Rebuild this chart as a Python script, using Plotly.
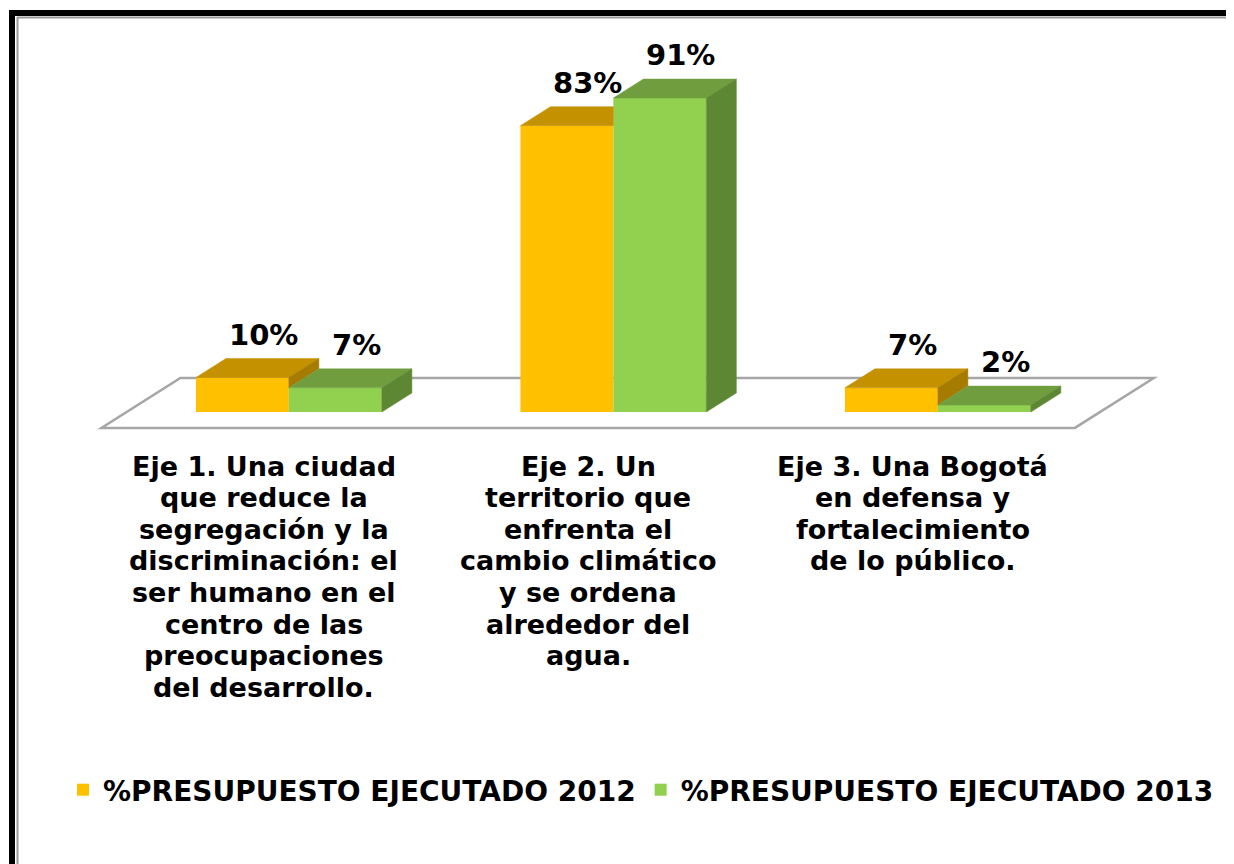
import plotly.graph_objects as go

# categories (one entry per axis, each split into the lines shown under the floor)
CATEGORY_LINES = [
    ["Eje 1. Una ciudad", "que reduce la", "segregación y la", "discriminación: el",
     "ser humano en el", "centro de las", "preocupaciones", "del desarrollo."],
    ["Eje 2. Un", "territorio que", "enfrenta el", "cambio climático",
     "y se ordena", "alrededor del", "agua."],
    ["Eje 3. Una Bogotá", "en defensa y", "fortalecimiento", "de lo público."],
]
SERIES_NAMES = ["%PRESUPUESTO EJECUTADO 2012", "%PRESUPUESTO EJECUTADO 2013"]
VALUES_2012 = [10, 83, 7]
VALUES_2013 = [7, 91, 2]

FRONT = ["#FFC000", "#92D050"]
TOP = ["#C49200", "#709E3E"]
SIDE = ["#A67C00", "#5E8734"]

FONT = "DejaVu Sans, Liberation Sans, Arial, sans-serif"

# fake 3d depth, in axis units
BARGAP = 0.427
DEPTH_X = 0.0925
DEPTH_Y = 5.5
FLOOR_FRONT = -0.84
FLOOR_BACK = 1.79

W, H = 1226, 856
PAGE_OFFSET = 8  # the page body margin pushes the figure 8px right and down
ML, MR, MT, MB = 32, 20, 22, 424
X_RANGE = [-0.767, 2.851]
Y_RANGE = [-8.12, 110.72]


def px_x(px):
    return (px - PAGE_OFFSET - ML) / (W - ML - MR)


def px_y(py):
    return (H - MB - (py - PAGE_OFFSET)) / (H - MT - MB)


def poly(xs, ys, color):
    return go.Scatter(
        x=xs + xs[:1], y=ys + ys[:1], mode="lines", fill="toself",
        fillcolor=color, line=dict(color=color, width=0.5),
        hoverinfo="skip", showlegend=False,
    )


series = [VALUES_2012, VALUES_2013]
n = len(CATEGORY_LINES)
xs = list(range(n))
bw = (1 - BARGAP) / len(series)

fig = go.Figure()

for j, vals in enumerate(series):
    fig.add_trace(go.Bar(
        x=xs, y=vals, name=SERIES_NAMES[j],
        marker=dict(color=FRONT[j], line=dict(width=0)),
        hoverinfo="y",
    ))

# top and side faces, painted left to right so the next bar hides what it should
for i in range(n):
    for j, vals in enumerate(series):
        h = vals[i]
        left = i - (1 - BARGAP) / 2 + j * bw
        right = left + bw
        nxt = series[j + 1][i] if j + 1 < len(series) else None
        if nxt is not None and nxt > h:
            fig.add_trace(poly(
                [left, right, right, left + DEPTH_X],
                [h, h, h + DEPTH_Y, h + DEPTH_Y], TOP[j]))
        else:
            fig.add_trace(poly(
                [left, right, right + DEPTH_X, left + DEPTH_X],
                [h, h, h + DEPTH_Y, h + DEPTH_Y], TOP[j]))
        low = 0 if nxt is None else min(nxt, h)
        if h > low:
            fig.add_trace(poly(
                [right, right, right + DEPTH_X, right + DEPTH_X],
                [low, h, h + DEPTH_Y, low + DEPTH_Y], SIDE[j]))

        fig.add_annotation(
            x=(left + right) / 2 + 0.7 * DEPTH_X, y=h + DEPTH_Y,
            xref="x", yref="y", yanchor="bottom", yshift=5,
            text=f"{h}%", showarrow=False,
            font=dict(family=FONT, size=29, color="black", weight="bold"),
        )

# category labels, one annotation per line
for i, lines in enumerate(CATEGORY_LINES):
    for k, line in enumerate(lines):
        fig.add_annotation(
            x=i + FLOOR_FRONT * DEPTH_X, y=px_y(466 + k * 31.6),
            xref="x", yref="paper", yanchor="middle",
            text=line, showarrow=False,
            font=dict(family=FONT, size=27, color="black", weight="bold"),
        )

# floor
fx = [-0.5, n - 0.5]
fpath = (
    f"M{fx[0] + FLOOR_FRONT * DEPTH_X},{FLOOR_FRONT * DEPTH_Y} "
    f"L{fx[1] + FLOOR_FRONT * DEPTH_X},{FLOOR_FRONT * DEPTH_Y} "
    f"L{fx[1] + FLOOR_BACK * DEPTH_X},{FLOOR_BACK * DEPTH_Y} "
    f"L{fx[0] + FLOOR_BACK * DEPTH_X},{FLOOR_BACK * DEPTH_Y} Z"
)
shapes = [dict(type="path", path=fpath, xref="x", yref="y", layer="below",
               line=dict(color="#A6A6A6", width=2.5), fillcolor="white")]

# slide frame
shapes += [
    dict(type="line", xref="paper", yref="paper", x0=px_x(12), x1=px_x(12),
         y0=px_y(10), y1=px_y(880), line=dict(color="black", width=6)),
    dict(type="line", xref="paper", yref="paper", x0=px_x(9), x1=px_x(1250),
         y0=px_y(13), y1=px_y(13), line=dict(color="black", width=6)),
    dict(type="line", xref="paper", yref="paper", x0=px_x(17.5), x1=px_x(17.5),
         y0=px_y(17), y1=px_y(880), line=dict(color="#9A9A9A", width=2)),
    dict(type="line", xref="paper", yref="paper", x0=px_x(17), x1=px_x(1250),
         y0=px_y(17.5), y1=px_y(17.5), line=dict(color="#9A9A9A", width=2)),
]

fig.update_layout(
    width=W, height=H,
    margin=dict(l=ML, r=MR, t=MT, b=MB),
    paper_bgcolor="white", plot_bgcolor="white",
    barmode="group", bargap=BARGAP, bargroupgap=0,
    font=dict(family=FONT, color="black"),
    shapes=shapes,
    showlegend=True,
    legend=dict(
        orientation="h", x=px_x(63), xanchor="left", y=px_y(790), yanchor="middle",
        font=dict(family=FONT, size=28, color="black", weight="bold"),
        bgcolor="rgba(0,0,0,0)", itemwidth=30, traceorder="normal",
    ),
    xaxis=dict(range=X_RANGE, visible=False, fixedrange=True),
    yaxis=dict(range=Y_RANGE, visible=False, fixedrange=True),
)

fig.write_html("out.html")
